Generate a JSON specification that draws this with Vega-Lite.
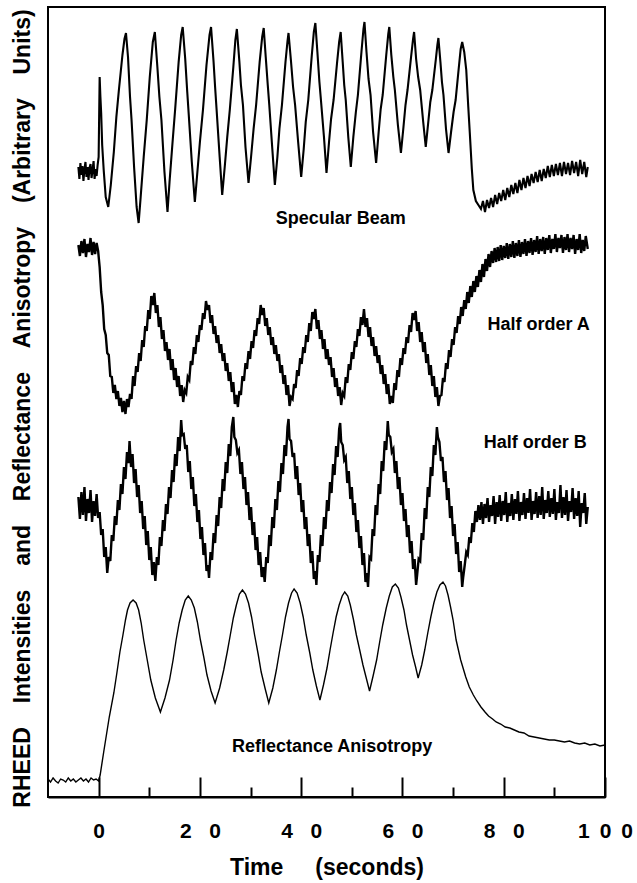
{
  "$schema": "https://vega.github.io/schema/vega-lite/v6.json",
  "width": 557,
  "height": 790,
  "autosize": {"type": "none"},
  "padding": {"left": 48, "top": 7, "right": 32, "bottom": 86},
  "background": "white",
  "config": {
    "view": {"stroke": "black", "strokeWidth": 2},
    "font": "Liberation Sans"
  },
  "datasets": {
    "spec": [
      {"t":-4.0,"v":630},{"t":-3.8,"v":618},{"t":-3.6,"v":634},{"t":-3.4,"v":622},{"t":-3.2,"v":631},{"t":-3.0,"v":616},{"t":-2.8,"v":628},{"t":-2.6,"v":635},{"t":-2.4,"v":620},{"t":-2.2,"v":630},{"t":-2.0,"v":617},{"t":-1.8,"v":629},{"t":-1.6,"v":633},{"t":-1.4,"v":619},{"t":-1.2,"v":627},{"t":-1.0,"v":636},{"t":-0.8,"v":618},{"t":-0.6,"v":628},{"t":-0.4,"v":621},{"t":-0.2,"v":632},{"t":0.0,"v":640},{"t":0.2,"v":720},{"t":0.35,"v":700},{"t":0.5,"v":684},{"t":0.7,"v":652},{"t":1.0,"v":627},{"t":1.4,"v":600},{"t":1.9,"v":590},{"t":2.4,"v":612},{"t":3.0,"v":645},{"t":3.5,"v":680},{"t":4.0,"v":707},{"t":4.7,"v":742},{"t":5.1,"v":758},{"t":5.4,"v":764},{"t":5.8,"v":740},{"t":6.2,"v":700},{"t":6.5,"v":677},{"t":7.0,"v":630},{"t":7.5,"v":590},{"t":7.9,"v":574},{"t":8.3,"v":600},{"t":8.9,"v":640},{"t":9.5,"v":677},{"t":10.1,"v":720},{"t":10.7,"v":755},{"t":11.1,"v":765},{"t":11.6,"v":730},{"t":12.0,"v":700},{"t":12.4,"v":677},{"t":13.0,"v":625},{"t":13.6,"v":585},{"t":14.0,"v":615},{"t":14.6,"v":655},{"t":15.1,"v":687},{"t":15.8,"v":735},{"t":16.3,"v":762},{"t":16.6,"v":770},{"t":17.1,"v":738},{"t":17.5,"v":705},{"t":17.8,"v":682},{"t":18.4,"v":635},{"t":19.0,"v":595},{"t":19.5,"v":625},{"t":20.0,"v":655},{"t":20.6,"v":687},{"t":21.3,"v":732},{"t":21.9,"v":762},{"t":22.2,"v":770},{"t":22.7,"v":735},{"t":23.0,"v":710},{"t":23.3,"v":687},{"t":23.9,"v":640},{"t":24.4,"v":602},{"t":24.9,"v":630},{"t":25.4,"v":660},{"t":25.9,"v":687},{"t":26.6,"v":730},{"t":27.0,"v":757},{"t":27.3,"v":768},{"t":27.8,"v":735},{"t":28.1,"v":712},{"t":28.5,"v":692},{"t":29.0,"v":650},{"t":29.6,"v":614},{"t":30.1,"v":640},{"t":30.6,"v":668},{"t":31.1,"v":692},{"t":31.8,"v":735},{"t":32.3,"v":760},{"t":32.6,"v":769},{"t":33.0,"v":740},{"t":33.4,"v":712},{"t":33.7,"v":692},{"t":34.3,"v":648},{"t":34.8,"v":612},{"t":35.3,"v":640},{"t":35.7,"v":668},{"t":36.2,"v":692},{"t":36.9,"v":735},{"t":37.3,"v":756},{"t":37.5,"v":764},{"t":38.0,"v":735},{"t":38.4,"v":710},{"t":38.8,"v":692},{"t":39.4,"v":655},{"t":40.0,"v":620},{"t":40.5,"v":648},{"t":40.9,"v":675},{"t":41.4,"v":697},{"t":42.1,"v":742},{"t":42.5,"v":765},{"t":42.8,"v":774},{"t":43.2,"v":745},{"t":43.6,"v":715},{"t":43.9,"v":697},{"t":44.5,"v":660},{"t":45.0,"v":624},{"t":45.5,"v":655},{"t":45.9,"v":678},{"t":46.4,"v":697},{"t":47.1,"v":735},{"t":47.5,"v":755},{"t":47.8,"v":765},{"t":48.2,"v":735},{"t":48.5,"v":712},{"t":48.8,"v":697},{"t":49.3,"v":660},{"t":49.8,"v":630},{"t":50.3,"v":660},{"t":50.8,"v":685},{"t":51.2,"v":702},{"t":51.9,"v":745},{"t":52.3,"v":768},{"t":52.5,"v":775},{"t":52.9,"v":745},{"t":53.3,"v":718},{"t":53.7,"v":702},{"t":54.2,"v":665},{"t":54.8,"v":634},{"t":55.3,"v":665},{"t":55.7,"v":688},{"t":56.1,"v":702},{"t":56.8,"v":742},{"t":57.2,"v":763},{"t":57.4,"v":770},{"t":57.8,"v":742},{"t":58.2,"v":720},{"t":58.5,"v":707},{"t":59.1,"v":672},{"t":59.7,"v":644},{"t":60.2,"v":670},{"t":60.6,"v":692},{"t":61.0,"v":707},{"t":61.7,"v":740},{"t":62.1,"v":758},{"t":62.3,"v":765},{"t":62.7,"v":738},{"t":63.1,"v":720},{"t":63.5,"v":707},{"t":64.1,"v":675},{"t":64.6,"v":650},{"t":65.1,"v":675},{"t":65.5,"v":695},{"t":65.9,"v":707},{"t":66.6,"v":738},{"t":66.9,"v":752},{"t":67.1,"v":759},{"t":67.5,"v":735},{"t":67.8,"v":715},{"t":68.1,"v":702},{"t":68.6,"v":668},{"t":69.1,"v":644},{"t":69.6,"v":665},{"t":70.1,"v":685},{"t":70.5,"v":697},{"t":71.1,"v":728},{"t":71.5,"v":748},{"t":71.8,"v":755},{"t":72.2,"v":745},{"t":72.6,"v":727},{"t":73.0,"v":690},{"t":73.3,"v":664},{"t":73.7,"v":628},{"t":74.0,"v":607},{"t":74.5,"v":596},{"t":75.0,"v":592},{"t":75.5,"v":588},
      {"t":75.9,"v":596},{"t":76.3,"v":585},{"t":76.7,"v":597},{"t":77.1,"v":589},{"t":77.5,"v":599},{"t":77.9,"v":590},{"t":78.3,"v":602},{"t":78.7,"v":593},{"t":79.1,"v":604},{"t":79.5,"v":596},{"t":79.9,"v":607},{"t":80.3,"v":597},{"t":80.7,"v":609},{"t":81.1,"v":600},{"t":81.5,"v":612},{"t":81.9,"v":603},{"t":82.3,"v":614},{"t":82.7,"v":604},{"t":83.1,"v":617},{"t":83.5,"v":607},{"t":83.9,"v":619},{"t":84.3,"v":609},{"t":84.7,"v":621},{"t":85.1,"v":611},{"t":85.5,"v":623},{"t":85.9,"v":614},{"t":86.3,"v":625},{"t":86.7,"v":615},{"t":87.1,"v":627},{"t":87.5,"v":616},{"t":87.9,"v":628},{"t":88.3,"v":619},{"t":88.7,"v":631},{"t":89.1,"v":620},{"t":89.5,"v":632},{"t":89.9,"v":621},{"t":90.3,"v":633},{"t":90.7,"v":622},{"t":91.1,"v":634},{"t":91.5,"v":621},{"t":91.9,"v":635},{"t":92.3,"v":623},{"t":92.7,"v":634},{"t":93.1,"v":622},{"t":93.5,"v":636},{"t":93.9,"v":624},{"t":94.3,"v":635},{"t":94.7,"v":621},{"t":95.1,"v":637},{"t":95.5,"v":623},{"t":95.9,"v":635},{"t":96.3,"v":620},{"t":96.6,"v":630}
    ],
    "halfA": [
      {"t":-4.0,"v":552},{"t":-3.7,"v":541},{"t":-3.4,"v":556},{"t":-3.1,"v":544},{"t":-2.8,"v":558},{"t":-2.5,"v":540},{"t":-2.2,"v":553},{"t":-1.9,"v":545},{"t":-1.6,"v":559},{"t":-1.3,"v":542},{"t":-1.0,"v":555},{"t":-0.7,"v":543},{"t":-0.4,"v":554},{"t":-0.1,"v":546},
      {"t":0.2,"v":530},{"t":0.5,"v":505},{"t":0.8,"v":492},{"t":1.1,"v":468},{"t":1.4,"v":462},{"t":1.7,"v":444},{"t":2.0,"v":442},{"t":2.3,"v":421},{"t":2.6,"v":420},{"t":2.9,"v":404},{"t":3.2,"v":412},{"t":3.5,"v":398},{"t":3.8,"v":406},{"t":4.1,"v":391},{"t":4.4,"v":399},{"t":4.7,"v":385},{"t":5.0,"v":396},{"t":5.3,"v":383},{"t":5.6,"v":398},
      {"t":5.9,"v":390},{"t":6.2,"v":403},{"t":6.5,"v":398},{"t":6.8,"v":421},{"t":7.1,"v":411},{"t":7.4,"v":431},{"t":7.7,"v":425},{"t":8.0,"v":444},{"t":8.3,"v":436},{"t":8.6,"v":457},{"t":8.9,"v":450},{"t":9.2,"v":471},{"t":9.5,"v":466},{"t":9.8,"v":487},{"t":10.1,"v":478},{"t":10.4,"v":501},{"t":10.7,"v":492},{"t":11.0,"v":504},
      {"t":11.3,"v":484},{"t":11.6,"v":492},{"t":11.9,"v":470},{"t":12.2,"v":480},{"t":12.5,"v":458},{"t":12.8,"v":467},{"t":13.1,"v":446},{"t":13.4,"v":455},{"t":13.7,"v":437},{"t":14.0,"v":448},{"t":14.3,"v":427},{"t":14.6,"v":438},{"t":14.9,"v":417},{"t":15.2,"v":429},{"t":15.5,"v":410},{"t":15.8,"v":421},{"t":16.1,"v":401},{"t":16.4,"v":412},{"t":16.7,"v":395},{"t":17.0,"v":407},
      {"t":17.3,"v":404},{"t":17.6,"v":420},{"t":17.9,"v":417},{"t":18.2,"v":436},{"t":18.5,"v":432},{"t":18.8,"v":450},{"t":19.1,"v":443},{"t":19.4,"v":462},{"t":19.7,"v":455},{"t":20.0,"v":472},{"t":20.3,"v":467},{"t":20.6,"v":484},{"t":20.9,"v":478},{"t":21.2,"v":496},{"t":21.5,"v":487},
      {"t":21.8,"v":492},{"t":22.1,"v":474},{"t":22.4,"v":482},{"t":22.7,"v":463},{"t":23.0,"v":471},{"t":23.3,"v":454},{"t":23.6,"v":462},{"t":23.9,"v":444},{"t":24.2,"v":453},{"t":24.5,"v":436},{"t":24.8,"v":444},{"t":25.1,"v":426},{"t":25.4,"v":434},{"t":25.7,"v":416},{"t":26.0,"v":425},{"t":26.3,"v":405},{"t":26.6,"v":415},{"t":26.9,"v":393},{"t":27.2,"v":402},{"t":27.5,"v":390},
      {"t":27.8,"v":406},{"t":28.1,"v":402},{"t":28.4,"v":421},{"t":28.7,"v":416},{"t":29.0,"v":434},{"t":29.3,"v":428},{"t":29.6,"v":446},{"t":29.9,"v":438},{"t":30.2,"v":456},{"t":30.5,"v":449},{"t":30.8,"v":467},{"t":31.1,"v":461},{"t":31.4,"v":479},{"t":31.7,"v":473},{"t":32.0,"v":492},{"t":32.3,"v":482},
      {"t":32.6,"v":489},{"t":32.9,"v":471},{"t":33.2,"v":479},{"t":33.5,"v":462},{"t":33.8,"v":470},{"t":34.1,"v":452},{"t":34.4,"v":460},{"t":34.7,"v":443},{"t":35.0,"v":452},{"t":35.3,"v":436},{"t":35.6,"v":443},{"t":35.9,"v":424},{"t":36.2,"v":432},{"t":36.5,"v":413},{"t":36.8,"v":422},{"t":37.1,"v":402},{"t":37.4,"v":412},{"t":37.7,"v":391},{"t":38.0,"v":400},
      {"t":38.3,"v":398},{"t":38.6,"v":413},{"t":38.9,"v":409},{"t":39.2,"v":427},{"t":39.5,"v":421},{"t":39.8,"v":439},{"t":40.1,"v":433},{"t":40.4,"v":450},{"t":40.7,"v":444},{"t":41.0,"v":462},{"t":41.3,"v":455},{"t":41.6,"v":474},{"t":41.9,"v":466},{"t":42.2,"v":485},{"t":42.5,"v":478},{"t":42.8,"v":488},
      {"t":43.1,"v":468},{"t":43.4,"v":477},{"t":43.7,"v":458},{"t":44.0,"v":467},{"t":44.3,"v":448},{"t":44.6,"v":458},{"t":44.9,"v":438},{"t":45.2,"v":448},{"t":45.5,"v":432},{"t":45.8,"v":440},{"t":46.1,"v":420},{"t":46.4,"v":429},{"t":46.7,"v":410},{"t":47.0,"v":419},{"t":47.3,"v":401},{"t":47.6,"v":410},{"t":47.9,"v":392},{"t":48.2,"v":404},
      {"t":48.5,"v":401},{"t":48.8,"v":420},{"t":49.1,"v":414},{"t":49.4,"v":433},{"t":49.7,"v":427},{"t":50.0,"v":445},{"t":50.3,"v":438},{"t":50.6,"v":456},{"t":50.9,"v":450},{"t":51.2,"v":468},{"t":51.5,"v":461},{"t":51.8,"v":480},{"t":52.1,"v":472},{"t":52.4,"v":488},
      {"t":52.7,"v":470},{"t":53.0,"v":479},{"t":53.3,"v":460},{"t":53.6,"v":470},{"t":53.9,"v":451},{"t":54.2,"v":460},{"t":54.5,"v":441},{"t":54.8,"v":451},{"t":55.1,"v":434},{"t":55.4,"v":442},{"t":55.7,"v":423},{"t":56.0,"v":432},{"t":56.3,"v":413},{"t":56.6,"v":423},{"t":56.9,"v":403},{"t":57.2,"v":413},{"t":57.5,"v":393},{"t":57.8,"v":401},
      {"t":58.1,"v":394},{"t":58.4,"v":414},{"t":58.7,"v":407},{"t":59.0,"v":427},{"t":59.3,"v":420},{"t":59.6,"v":439},{"t":59.9,"v":432},{"t":60.2,"v":449},{"t":60.5,"v":443},{"t":60.8,"v":460},{"t":61.1,"v":454},{"t":61.4,"v":472},{"t":61.7,"v":465},{"t":62.0,"v":484},{"t":62.3,"v":477},{"t":62.6,"v":486},
      {"t":62.9,"v":466},{"t":63.2,"v":475},{"t":63.5,"v":455},{"t":63.8,"v":465},{"t":64.1,"v":445},{"t":64.4,"v":455},{"t":64.7,"v":434},{"t":65.0,"v":443},{"t":65.3,"v":422},{"t":65.6,"v":432},{"t":65.9,"v":411},{"t":66.2,"v":421},{"t":66.5,"v":400},{"t":66.8,"v":410},{"t":67.1,"v":391},{"t":67.4,"v":401},
      {"t":67.7,"v":402},{"t":68.0,"v":419},{"t":68.3,"v":415},{"t":68.6,"v":434},{"t":68.9,"v":428},{"t":69.2,"v":447},{"t":69.5,"v":440},{"t":69.8,"v":458},{"t":70.1,"v":452},{"t":70.4,"v":470},{"t":70.7,"v":464},{"t":71.0,"v":481},{"t":71.3,"v":473},{"t":71.6,"v":490},{"t":71.9,"v":481},{"t":72.2,"v":497},{"t":72.5,"v":488},{"t":72.8,"v":505},{"t":73.1,"v":494},{"t":73.4,"v":511},{"t":73.7,"v":500},{"t":74.0,"v":516},{"t":74.3,"v":505},{"t":74.6,"v":521},{"t":74.9,"v":510},{"t":75.2,"v":527},{"t":75.5,"v":515},{"t":75.8,"v":533},{"t":76.1,"v":520},{"t":76.4,"v":538},{"t":76.7,"v":526},{"t":77.0,"v":543},{"t":77.3,"v":530},{"t":77.6,"v":546},{"t":77.9,"v":534},
      {"t":78.2,"v":549},{"t":78.5,"v":535},{"t":78.8,"v":550},{"t":79.1,"v":536},{"t":79.4,"v":552},{"t":79.7,"v":537},{"t":80.0,"v":551},{"t":80.3,"v":539},{"t":80.6,"v":554},{"t":80.9,"v":538},{"t":81.2,"v":553},{"t":81.5,"v":540},{"t":81.8,"v":556},{"t":82.1,"v":539},{"t":82.4,"v":554},{"t":82.7,"v":541},{"t":83.0,"v":557},{"t":83.3,"v":540},{"t":83.6,"v":555},{"t":83.9,"v":543},{"t":84.2,"v":558},{"t":84.5,"v":541},{"t":84.8,"v":556},{"t":85.1,"v":544},{"t":85.4,"v":559},{"t":85.7,"v":542},{"t":86.0,"v":557},{"t":86.3,"v":545},{"t":86.6,"v":561},{"t":86.9,"v":543},{"t":87.2,"v":558},{"t":87.5,"v":546},{"t":87.8,"v":560},{"t":88.1,"v":543},{"t":88.4,"v":559},{"t":88.7,"v":547},{"t":89.0,"v":562},{"t":89.3,"v":544},{"t":89.6,"v":558},{"t":89.9,"v":548},{"t":90.2,"v":563},{"t":90.5,"v":545},{"t":90.8,"v":559},{"t":91.1,"v":549},{"t":91.4,"v":562},{"t":91.7,"v":544},{"t":92.0,"v":560},{"t":92.3,"v":547},{"t":92.6,"v":563},{"t":92.9,"v":545},{"t":93.2,"v":559},{"t":93.5,"v":548},{"t":93.8,"v":562},{"t":94.1,"v":543},{"t":94.4,"v":558},{"t":94.7,"v":547},{"t":95.0,"v":563},{"t":95.3,"v":544},{"t":95.6,"v":557},{"t":95.9,"v":546},{"t":96.2,"v":561},{"t":96.6,"v":548}
    ],
    "halfB": [
      {"t":-4.0,"v":300},{"t":-3.7,"v":278},{"t":-3.4,"v":305},{"t":-3.1,"v":282},{"t":-2.8,"v":310},{"t":-2.5,"v":276},{"t":-2.2,"v":298},{"t":-1.9,"v":284},{"t":-1.6,"v":307},{"t":-1.3,"v":275},{"t":-1.0,"v":296},{"t":-0.7,"v":281},{"t":-0.4,"v":303},{"t":-0.1,"v":279},
      {"t":0.2,"v":285},{"t":0.5,"v":262},{"t":0.8,"v":268},{"t":1.1,"v":240},{"t":1.4,"v":250},{"t":1.7,"v":224},{"t":2.0,"v":240},{"t":2.3,"v":236},{"t":2.6,"v":262},{"t":2.9,"v":256},{"t":3.2,"v":281},{"t":3.5,"v":272},{"t":3.8,"v":297},{"t":4.1,"v":287},{"t":4.4,"v":313},{"t":4.7,"v":303},{"t":5.0,"v":330},{"t":5.3,"v":318},{"t":5.6,"v":345},{"t":5.9,"v":334},{"t":6.1,"v":356},
      {"t":6.4,"v":330},{"t":6.7,"v":343},{"t":7.0,"v":314},{"t":7.3,"v":328},{"t":7.6,"v":300},{"t":7.9,"v":312},{"t":8.2,"v":284},{"t":8.5,"v":296},{"t":8.8,"v":268},{"t":9.1,"v":281},{"t":9.4,"v":252},{"t":9.7,"v":266},{"t":10.0,"v":237},{"t":10.3,"v":250},{"t":10.6,"v":222},{"t":10.9,"v":235},{"t":11.2,"v":216},
      {"t":11.5,"v":240},{"t":11.8,"v":232},{"t":12.1,"v":260},{"t":12.4,"v":251},{"t":12.7,"v":277},{"t":13.0,"v":266},{"t":13.3,"v":293},{"t":13.6,"v":283},{"t":13.9,"v":310},{"t":14.2,"v":299},{"t":14.5,"v":327},{"t":14.8,"v":315},{"t":15.1,"v":343},{"t":15.4,"v":331},{"t":15.7,"v":360},{"t":16.0,"v":346},{"t":16.3,"v":377},{"t":16.5,"v":362},
      {"t":16.8,"v":363},{"t":17.1,"v":348},{"t":17.4,"v":352},{"t":17.7,"v":325},{"t":18.0,"v":336},{"t":18.3,"v":308},{"t":18.6,"v":320},{"t":18.9,"v":291},{"t":19.2,"v":303},{"t":19.5,"v":275},{"t":19.8,"v":287},{"t":20.1,"v":258},{"t":20.4,"v":270},{"t":20.7,"v":242},{"t":21.0,"v":254},{"t":21.3,"v":226},{"t":21.6,"v":232},{"t":21.8,"v":219},
      {"t":22.1,"v":245},{"t":22.4,"v":237},{"t":22.7,"v":264},{"t":23.0,"v":254},{"t":23.3,"v":282},{"t":23.6,"v":271},{"t":23.9,"v":300},{"t":24.2,"v":289},{"t":24.5,"v":318},{"t":24.8,"v":306},{"t":25.1,"v":335},{"t":25.4,"v":324},{"t":25.7,"v":353},{"t":26.0,"v":341},{"t":26.3,"v":370},{"t":26.6,"v":380},{"t":26.8,"v":360},
      {"t":27.1,"v":357},{"t":27.4,"v":344},{"t":27.7,"v":347},{"t":28.0,"v":323},{"t":28.3,"v":335},{"t":28.6,"v":308},{"t":28.9,"v":320},{"t":29.2,"v":292},{"t":29.5,"v":305},{"t":29.8,"v":277},{"t":30.1,"v":290},{"t":30.4,"v":262},{"t":30.7,"v":275},{"t":31.0,"v":247},{"t":31.3,"v":260},{"t":31.6,"v":232},{"t":31.9,"v":245},{"t":32.2,"v":220},{"t":32.5,"v":230},{"t":32.8,"v":215},
      {"t":33.1,"v":240},{"t":33.4,"v":234},{"t":33.7,"v":262},{"t":34.0,"v":251},{"t":34.3,"v":280},{"t":34.6,"v":269},{"t":34.9,"v":298},{"t":35.2,"v":287},{"t":35.5,"v":316},{"t":35.8,"v":305},{"t":36.1,"v":334},{"t":36.4,"v":323},{"t":36.7,"v":352},{"t":37.0,"v":341},{"t":37.3,"v":370},{"t":37.5,"v":378},{"t":37.7,"v":358},
      {"t":38.0,"v":356},{"t":38.3,"v":340},{"t":38.6,"v":344},{"t":38.9,"v":318},{"t":39.2,"v":331},{"t":39.5,"v":302},{"t":39.8,"v":314},{"t":40.1,"v":285},{"t":40.4,"v":297},{"t":40.7,"v":268},{"t":41.0,"v":280},{"t":41.3,"v":251},{"t":41.6,"v":263},{"t":41.9,"v":234},{"t":42.2,"v":246},{"t":42.5,"v":218},{"t":42.8,"v":226},{"t":43.0,"v":212},
      {"t":43.3,"v":242},{"t":43.6,"v":235},{"t":43.9,"v":262},{"t":44.2,"v":251},{"t":44.5,"v":280},{"t":44.8,"v":268},{"t":45.1,"v":297},{"t":45.4,"v":286},{"t":45.7,"v":315},{"t":46.0,"v":304},{"t":46.3,"v":333},{"t":46.6,"v":322},{"t":46.9,"v":351},{"t":47.2,"v":340},{"t":47.5,"v":368},{"t":47.7,"v":374},{"t":47.9,"v":355},
      {"t":48.2,"v":352},{"t":48.5,"v":337},{"t":48.8,"v":340},{"t":49.1,"v":314},{"t":49.4,"v":326},{"t":49.7,"v":298},{"t":50.0,"v":310},{"t":50.3,"v":282},{"t":50.6,"v":294},{"t":50.9,"v":265},{"t":51.2,"v":277},{"t":51.5,"v":249},{"t":51.8,"v":261},{"t":52.1,"v":232},{"t":52.4,"v":244},{"t":52.7,"v":215},{"t":53.0,"v":224},{"t":53.2,"v":210},
      {"t":53.5,"v":240},{"t":53.8,"v":238},{"t":54.1,"v":268},{"t":54.4,"v":261},{"t":54.7,"v":292},{"t":55.0,"v":282},{"t":55.3,"v":313},{"t":55.6,"v":303},{"t":55.9,"v":336},{"t":56.2,"v":326},{"t":56.5,"v":356},{"t":56.8,"v":347},{"t":57.1,"v":376},{"t":57.3,"v":362},
      {"t":57.6,"v":360},{"t":57.9,"v":345},{"t":58.2,"v":348},{"t":58.5,"v":324},{"t":58.8,"v":336},{"t":59.1,"v":308},{"t":59.4,"v":320},{"t":59.7,"v":292},{"t":60.0,"v":304},{"t":60.3,"v":276},{"t":60.6,"v":288},{"t":60.9,"v":260},{"t":61.2,"v":272},{"t":61.5,"v":244},{"t":61.8,"v":256},{"t":62.1,"v":228},{"t":62.4,"v":238},{"t":62.7,"v":212},{"t":62.9,"v":222},
      {"t":63.2,"v":238},{"t":63.5,"v":236},{"t":63.8,"v":264},{"t":64.1,"v":257},{"t":64.4,"v":289},{"t":64.7,"v":278},{"t":65.0,"v":310},{"t":65.3,"v":300},{"t":65.6,"v":330},{"t":65.9,"v":321},{"t":66.2,"v":352},{"t":66.5,"v":342},{"t":66.8,"v":370},{"t":67.0,"v":360},
      {"t":67.3,"v":355},{"t":67.6,"v":336},{"t":67.9,"v":340},{"t":68.2,"v":315},{"t":68.5,"v":326},{"t":68.8,"v":297},{"t":69.1,"v":309},{"t":69.4,"v":279},{"t":69.7,"v":291},{"t":70.0,"v":261},{"t":70.3,"v":273},{"t":70.6,"v":243},{"t":70.9,"v":255},{"t":71.2,"v":225},{"t":71.5,"v":236},{"t":71.8,"v":210},{"t":72.0,"v":220},
      {"t":72.3,"v":232},{"t":72.6,"v":245},{"t":72.9,"v":242},{"t":73.2,"v":260},{"t":73.5,"v":254},{"t":73.8,"v":274},{"t":74.1,"v":265},{"t":74.4,"v":286},{"t":74.7,"v":275},{"t":75.0,"v":292},{"t":75.3,"v":277},{"t":75.6,"v":295},{"t":75.9,"v":273},{"t":76.2,"v":293},{"t":76.5,"v":279},{"t":76.8,"v":299},{"t":77.1,"v":275},{"t":77.4,"v":292},{"t":77.7,"v":281},{"t":78.0,"v":301},{"t":78.3,"v":273},{"t":78.6,"v":295},{"t":78.9,"v":280},{"t":79.2,"v":302},{"t":79.5,"v":276},{"t":79.8,"v":296},{"t":80.1,"v":282},{"t":80.4,"v":305},{"t":80.7,"v":275},{"t":81.0,"v":294},{"t":81.3,"v":281},{"t":81.6,"v":303},{"t":81.9,"v":277},{"t":82.2,"v":298},{"t":82.5,"v":283},{"t":82.8,"v":306},{"t":83.1,"v":276},{"t":83.4,"v":295},{"t":83.7,"v":282},{"t":84.0,"v":304},{"t":84.3,"v":278},{"t":84.6,"v":299},{"t":84.9,"v":284},{"t":85.2,"v":308},{"t":85.5,"v":277},{"t":85.8,"v":296},{"t":86.1,"v":283},{"t":86.4,"v":305},{"t":86.7,"v":279},{"t":87.0,"v":301},{"t":87.3,"v":282},{"t":87.6,"v":310},{"t":87.9,"v":278},{"t":88.2,"v":297},{"t":88.5,"v":284},{"t":88.8,"v":306},{"t":89.1,"v":280},{"t":89.4,"v":299},{"t":89.7,"v":283},{"t":90.0,"v":308},{"t":90.3,"v":277},{"t":90.6,"v":295},{"t":90.9,"v":284},{"t":91.2,"v":312},{"t":91.5,"v":279},{"t":91.8,"v":300},{"t":92.1,"v":282},{"t":92.4,"v":307},{"t":92.7,"v":276},{"t":93.0,"v":296},{"t":93.3,"v":285},{"t":93.6,"v":309},{"t":93.9,"v":278},{"t":94.2,"v":299},{"t":94.5,"v":281},{"t":94.8,"v":306},{"t":95.1,"v":270},{"t":95.4,"v":294},{"t":95.7,"v":284},{"t":96.0,"v":304},{"t":96.3,"v":273},{"t":96.6,"v":290}
    ],
    "anis": [
      {"t":-10,"v":18},{"t":-9.5,"v":15},{"t":-9,"v":19},{"t":-8.5,"v":16},{"t":-8,"v":14},{"t":-7.5,"v":18},{"t":-7,"v":17},{"t":-6.5,"v":15},{"t":-6,"v":19},{"t":-5.5,"v":16},{"t":-5,"v":18},{"t":-4.5,"v":15},{"t":-4,"v":17},{"t":-3.5,"v":19},{"t":-3,"v":16},{"t":-2.5,"v":18},{"t":-2,"v":15},{"t":-1.5,"v":19},{"t":-1,"v":17},{"t":-0.5,"v":18},{"t":0,"v":16},
      {"t":0.3,"v":22},{"t":1.0,"v":45},{"t":2.1,"v":80},{"t":3.0,"v":104},{"t":3.6,"v":124},{"t":4.2,"v":145},{"t":4.8,"v":162},{"t":5.3,"v":177},{"t":5.7,"v":187},{"t":6.2,"v":194},{"t":6.8,"v":197},{"t":7.4,"v":194},{"t":7.9,"v":187},{"t":8.4,"v":174},{"t":8.9,"v":157},{"t":9.6,"v":137},{"t":10.3,"v":117},{"t":11.2,"v":99},{"t":12.2,"v":85},
      {"t":13.1,"v":99},{"t":14.0,"v":117},{"t":14.7,"v":137},{"t":15.3,"v":157},{"t":15.9,"v":174},{"t":16.5,"v":187},{"t":17.1,"v":197},{"t":17.7,"v":201},{"t":18.3,"v":197},{"t":18.9,"v":189},{"t":19.5,"v":175},{"t":20.1,"v":157},{"t":20.8,"v":139},{"t":21.4,"v":122},{"t":22.2,"v":106},{"t":23.0,"v":94},
      {"t":23.9,"v":109},{"t":24.7,"v":127},{"t":25.4,"v":145},{"t":26.0,"v":162},{"t":26.6,"v":179},{"t":27.2,"v":192},{"t":27.8,"v":203},{"t":28.4,"v":207},{"t":29.0,"v":203},{"t":29.6,"v":194},{"t":30.2,"v":180},{"t":30.8,"v":162},{"t":31.5,"v":143},{"t":32.1,"v":125},{"t":32.9,"v":108},{"t":33.6,"v":94},
      {"t":34.4,"v":109},{"t":35.1,"v":127},{"t":35.7,"v":145},{"t":36.3,"v":162},{"t":36.9,"v":180},{"t":37.5,"v":194},{"t":38.1,"v":204},{"t":38.6,"v":208},{"t":39.2,"v":204},{"t":39.8,"v":194},{"t":40.4,"v":180},{"t":41.0,"v":162},{"t":41.7,"v":144},{"t":42.3,"v":127},{"t":43.0,"v":111},{"t":43.7,"v":97},
      {"t":44.4,"v":112},{"t":45.1,"v":129},{"t":45.7,"v":147},{"t":46.3,"v":164},{"t":46.9,"v":180},{"t":47.5,"v":192},{"t":48.1,"v":201},{"t":48.6,"v":205},{"t":49.2,"v":201},{"t":49.7,"v":192},{"t":50.3,"v":178},{"t":50.9,"v":162},{"t":51.6,"v":146},{"t":52.2,"v":132},{"t":52.9,"v":118},{"t":53.5,"v":106},
      {"t":54.2,"v":121},{"t":54.9,"v":137},{"t":55.5,"v":155},{"t":56.1,"v":172},{"t":56.8,"v":189},{"t":57.4,"v":201},{"t":58.0,"v":210},{"t":58.6,"v":213},{"t":59.2,"v":209},{"t":59.7,"v":200},{"t":60.3,"v":187},{"t":60.8,"v":172},{"t":61.4,"v":157},{"t":62.0,"v":142},{"t":62.6,"v":130},{"t":63.1,"v":119},
      {"t":63.8,"v":132},{"t":64.4,"v":147},{"t":65.0,"v":164},{"t":65.6,"v":180},{"t":66.2,"v":194},{"t":66.8,"v":205},{"t":67.4,"v":212},{"t":68.0,"v":215},{"t":68.5,"v":211},{"t":69.0,"v":202},{"t":69.5,"v":190},{"t":70.0,"v":177},{"t":70.6,"v":157},{"t":71.5,"v":137},{"t":72.5,"v":120},{"t":73.2,"v":110},{"t":74.0,"v":102},{"t":74.7,"v":96},{"t":75.5,"v":90},{"t":76.3,"v":85},{"t":77.0,"v":81},{"t":77.8,"v":78},{"t":78.5,"v":75},{"t":79.4,"v":73},{"t":80.3,"v":70},{"t":81.2,"v":69},{"t":82.1,"v":67},{"t":83.0,"v":65},{"t":84.0,"v":64},{"t":85.0,"v":61},{"t":86.0,"v":60},{"t":87.0,"v":59},{"t":88.0,"v":58},{"t":89.0,"v":57},{"t":90.0,"v":57},{"t":91.0,"v":56},{"t":92.0,"v":55},{"t":93.0,"v":56},{"t":94.0,"v":54},{"t":95.0,"v":53},{"t":96.0,"v":54},{"t":97.0,"v":52},{"t":98.0,"v":53},{"t":99.0,"v":51},{"t":100,"v":52}
    ],
    "labelsCenter": [
      {"label": "Specular Beam", "t": 47.8, "v": 573},
      {"label": "Reflectance Anisotropy", "t": 46.1, "v": 45}
    ],
    "labelsRight": [
      {"label": "Half order A", "t": 97.0, "v": 467},
      {"label": "Half order B", "t": 96.4, "v": 349}
    ]
  },
  "resolve": {"axis": {"x": "independent", "y": "independent"}},
  "layer": [
    {
      "data": {"name": "spec"},
      "mark": {"type": "line", "color": "black", "strokeWidth": 2.1},
      "encoding": {
        "x": {
          "field": "t", "type": "quantitative",
          "scale": {"domain": [-10, 100], "nice": false, "zero": false},
          "axis": {
            "orient": "bottom",
            "values": [0, 20, 40, 60, 80, 100],
            "grid": false, "ticks": false,
            "domainColor": "black", "domainWidth": 2,
            "labelPadding": 23,
            "labelFont": "Liberation Sans", "labelFontSize": 21, "labelFontWeight": "bold", "labelColor": "black",
            "labelFlush": false, "labelOverlap": false,
            "labelExpr": "datum.value == 0 ? '0' : datum.value == 100 ? '1\u00a0\u20090\u00a0\u20090' : join(split(datum.label, ''), '\u00a0\u00a0\u00a0')",
            "title": "Time\u00a0\u00a0\u00a0\u00a0\u00a0(seconds)",
            "titleFont": "Liberation Sans", "titleFontSize": 23, "titleFontWeight": "bold", "titleColor": "black",
            "titlePadding": 15
          }
        },
        "y": {
          "field": "v", "type": "quantitative",
          "scale": {"domain": [0, 790], "nice": false, "zero": false},
          "axis": {
            "orient": "left",
            "title": "RHEED\u00a0\u00a0\u00a0\u2009Intensities\u00a0\u00a0\u00a0\u2009and\u00a0\u00a0\u00a0\u2009Reflectance\u00a0\u00a0\u00a0\u2009Anisotropy\u00a0\u00a0\u00a0\u2009(Arbitrary\u00a0\u00a0\u00a0\u2009Units)",
            "labels": false, "ticks": false, "domain": false, "grid": false,
            "titleFont": "Liberation Sans", "titleFontSize": 23, "titleFontWeight": "bold", "titleColor": "black",
            "titlePadding": 14,
            "titleY": 401
          }
        }
      }
    },
    {
      "data": {"name": "halfA"},
      "mark": {"type": "line", "color": "black", "strokeWidth": 2.4},
      "encoding": {
        "x": {
          "field": "t", "type": "quantitative",
          "scale": {"domain": [-10, 100], "nice": false, "zero": false},
          "axis": {
            "orient": "bottom",
            "values": [0, 20, 40, 60, 80, 100],
            "grid": false, "labels": false, "domain": false, "title": null,
            "offset": -20, "tickSize": 20, "tickWidth": 2, "tickColor": "black"
          }
        },
        "y": {"field": "v", "type": "quantitative", "scale": {"domain": [0, 790], "nice": false, "zero": false}, "axis": null}
      }
    },
    {
      "data": {"name": "halfB"},
      "mark": {"type": "line", "color": "black", "strokeWidth": 2.4},
      "encoding": {
        "x": {"field": "t", "type": "quantitative", "scale": {"domain": [-10, 100], "nice": false, "zero": false}, "axis": null},
        "y": {"field": "v", "type": "quantitative", "scale": {"domain": [0, 790], "nice": false, "zero": false}, "axis": null}
      }
    },
    {
      "data": {"name": "anis"},
      "mark": {"type": "line", "color": "black", "strokeWidth": 1.4},
      "encoding": {
        "x": {
          "field": "t", "type": "quantitative",
          "scale": {"domain": [-10, 100], "nice": false, "zero": false},
          "axis": {
            "orient": "bottom",
            "values": [10, 30, 50, 70, 90],
            "grid": false, "labels": false, "domain": false, "title": null,
            "offset": -10, "tickSize": 10, "tickWidth": 2, "tickColor": "black"
          }
        },
        "y": {"field": "v", "type": "quantitative", "scale": {"domain": [0, 790], "nice": false, "zero": false}, "axis": null}
      }
    },
    {
      "data": {"name": "labelsCenter"},
      "mark": {"type": "text", "align": "center", "baseline": "alphabetic", "font": "Liberation Sans", "fontSize": 18, "fontWeight": "bold", "color": "black"},
      "encoding": {
        "x": {"field": "t", "type": "quantitative", "scale": {"domain": [-10, 100], "nice": false, "zero": false}, "axis": null},
        "y": {"field": "v", "type": "quantitative", "scale": {"domain": [0, 790], "nice": false, "zero": false}, "axis": null},
        "text": {"field": "label"}
      }
    },
    {
      "data": {"name": "labelsRight"},
      "mark": {"type": "text", "align": "right", "baseline": "alphabetic", "font": "Liberation Sans", "fontSize": 18, "fontWeight": "bold", "color": "black"},
      "encoding": {
        "x": {"field": "t", "type": "quantitative", "scale": {"domain": [-10, 100], "nice": false, "zero": false}, "axis": null},
        "y": {"field": "v", "type": "quantitative", "scale": {"domain": [0, 790], "nice": false, "zero": false}, "axis": null},
        "text": {"field": "label"}
      }
    }
  ]
}
